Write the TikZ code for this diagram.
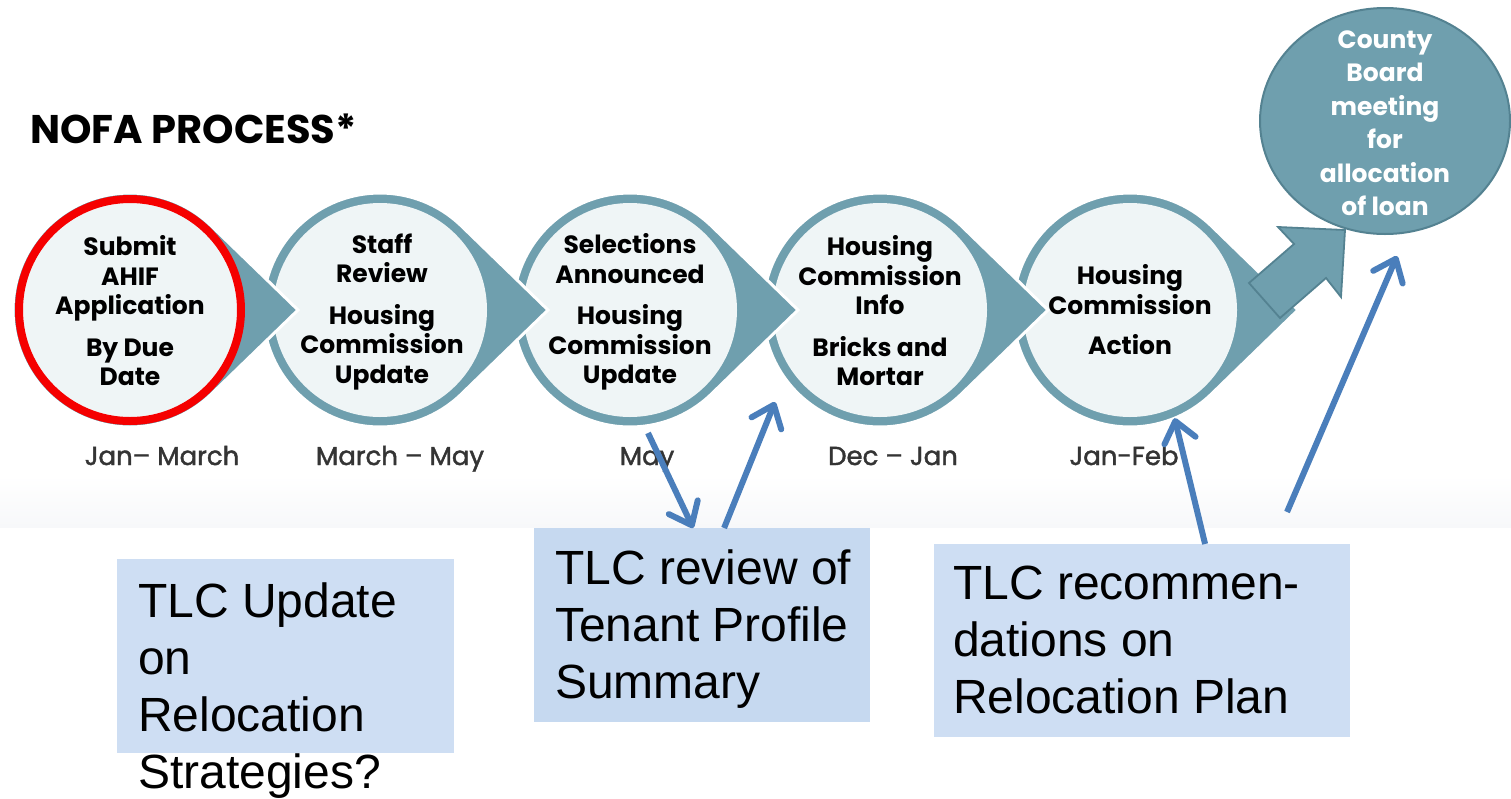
\documentclass[tikz,border=0pt]{standalone}
\usepackage{fontspec}
\setmainfont{Liberation Sans}
\newfontfamily\gothic{Poppins}
\newfontfamily\gothicmed[FakeBold=1.6]{Poppins}
\usetikzlibrary{arrows.meta,calc,shapes.geometric}
\definecolor{nofateal}{RGB}{111,159,174}
\definecolor{nofadark}{RGB}{84,130,145}
\definecolor{nofalight}{RGB}{239,245,246}
\definecolor{nofared}{RGB}{245,0,0}
\definecolor{arrowblue}{RGB}{74,126,187}
\definecolor{boxa}{RGB}{206,222,243}
\definecolor{boxb}{RGB}{198,217,240}
\definecolor{labelgrey}{RGB}{52,52,52}
\tikzset{
  stepfont/.style={font=\gothic\bfseries\fontsize{25}{29.5}\selectfont, align=center, inner sep=0pt},
  datelabel/.style={font=\gothicmed\fontsize{26}{30}\selectfont, text=labelgrey, anchor=base, inner sep=0pt},
  tlcbox/.style={anchor=north west, inner sep=0pt},
  tlctext/.style={anchor=north west, inner sep=0pt, align=left, font=\fontsize{48}{57}\selectfont},
  tlcarrow/.style={draw=arrowblue, line width=6pt, -{Straight Barb[round, length=20pt, width=32pt, line width=6pt 0]}},
}
\begin{document}
\begin{tikzpicture}[x=1pt, y=-1pt]
\useasboundingbox (0,0) rectangle (1511,798);
\fill[white] (0,0) rectangle (1511,798);
\shade[top color=white, bottom color={rgb,255:red,247;green,248;blue,250}] (0,475) rectangle (1511,527);

% title
\node[font=\gothic\bfseries\fontsize{40}{44}\selectfont, anchor=base west, inner sep=0pt] (title) at (30,143) {NOFA PROCESS*};

% teardrops, right to left
\foreach \cx in {1130,880,630,380,130} {
  \filldraw[fill=nofateal, draw=white, line width=3pt]
    ($(\cx,310)+(46.4:117)$) arc[start angle=46.4, end angle=313.6, radius=117] -- (\cx+168,310) -- cycle;
  \fill[nofalight] (\cx,310) circle[radius=107];
}
\draw[nofared, line width=8pt, fill=nofalight] (130,310) circle[radius=111];

% step texts
\node[stepfont] (c1) at (130,311) {Submit\\AHIF\\Application\\[12pt]By Due\\Date};
\node[stepfont] (c2) at (382,312) {Staff\\Review\\[12pt]Housing\\Commission\\Update};
\node[stepfont] (c3) at (630,312) {Selections\\Announced\\[12pt]Housing\\Commission\\Update};
\node[stepfont] (c4) at (880,311) {Housing\\Commission\\Info\\[12pt]Bricks and\\Mortar};
\node[stepfont] (c5) at (1130,310) {Housing\\Commission\\[11pt]Action};

% date labels
\node[datelabel] (d1) at (162,465) {Jan– March};
\node[datelabel] (d2) at (400,465) {March – May};
\node[datelabel] (d3) at (647,465) {May};
\node[datelabel] (d4) at (893,465) {Dec – Jan};
\node[datelabel] (d5) at (1124,465) {Jan-Feb};

% county board
\node[ellipse, draw=nofadark, line width=2pt, fill=nofateal, minimum width=250pt, minimum height=226pt, inner sep=0pt] (cb) at (1385,121) {};
\node[font=\gothic\bfseries\fontsize{25}{33.5}\selectfont, text=white, align=center, inner sep=0pt] (cbt) at (1385,123) {County\\Board\\meeting\\for\\allocation\\of loan};

% block arrow
\filldraw[fill=nofateal, draw=nofadark, line width=1.8pt, line join=miter]
  (1249,283) -- (1294,244) -- (1278,227) -- (1345,230) -- (1341,297) -- (1326,278) -- (1280,318) -- cycle;

% TLC boxes
\node[tlcbox, fill=boxa, minimum width=337pt, minimum height=194pt] (b1) at (117,559) {};
\node[tlcbox, fill=boxb, minimum width=336pt, minimum height=194pt] (b2) at (534,528) {};
\node[tlcbox, fill=boxa, minimum width=416pt, minimum height=193pt] (b3) at (934,544) {};
\node[tlctext] (t1) at ($(b1.north west)+(21,24)$) {TLC Update\\on\\Relocation\\Strategies?};
\node[tlctext] (t2) at ($(b2.north west)+(21,22)$) {TLC review of\\Tenant Profile\\Summary};
\node[tlctext] (t3) at ($(b3.north west)+(19,22)$) {TLC recommen-\\dations on\\Relocation Plan};

% connectors
\coordinate (a2end) at (775,402);
\coordinate (a4start) at (1287,512);
\coordinate (a4end) at (1397,256);
\draw[tlcarrow] ($(c3.center)+(18,121)$) -- ($(b2.north west)!0.473!(b2.north east)$);
\draw[tlcarrow] ($(b2.north west)!0.565!(b2.north east)$) -- (a2end);
\draw[tlcarrow] ($(b3.north west)!0.651!(b3.north east)$) -- ($(1130,310)+(67.6:117)$);
\draw[tlcarrow] (a4start) -- (a4end);
\end{tikzpicture}
\end{document}
